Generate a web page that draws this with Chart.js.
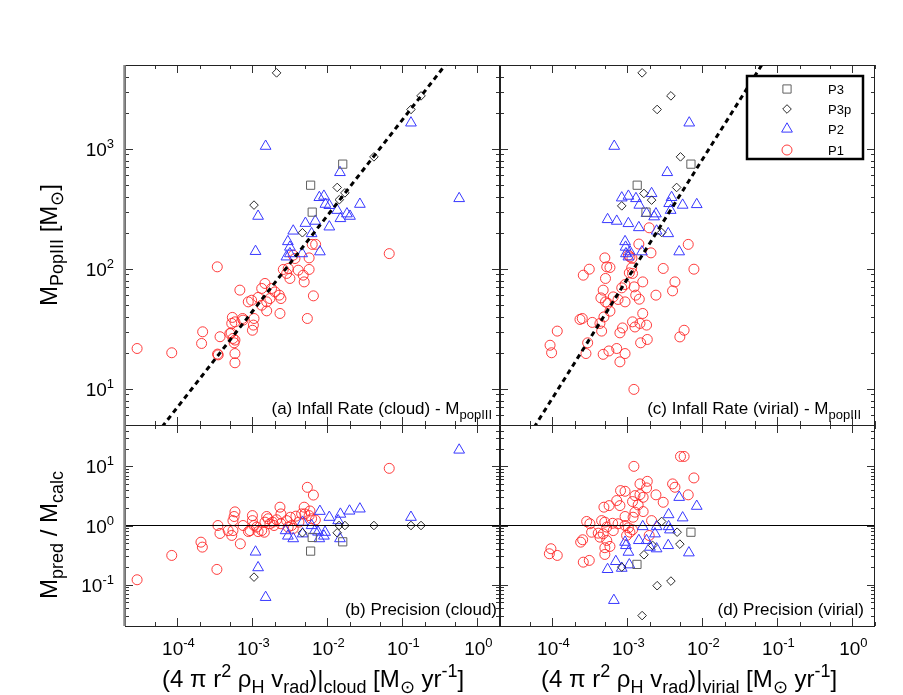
<!DOCTYPE html>
<html><head><meta charset="utf-8">
<script src="https://cdn.jsdelivr.net/npm/chart.js@4/dist/chart.umd.min.js"></script>
<style>
html,body{margin:0;padding:0;background:#fff;}
#wrap{position:relative;width:903px;height:695px;background:#fff;}
#wrap canvas{position:absolute;left:0;top:0;}
</style></head><body>
<div id="wrap">
<canvas id="ca" width="903" height="695"></canvas>
<canvas id="cb" width="903" height="695"></canvas>
<canvas id="cc" width="903" height="695"></canvas>
<canvas id="cd" width="903" height="695"></canvas>
</div>
<script>
// ---------------- data ----------------
const xMin = 2e-5, xMax = 2;
const massMin = 5, massMax = 5000;
const ratioMin = 0.02, ratioMax = 50;
const xTickValues = [1e-4, 1e-3, 1e-2, 1e-1, 1];
const xTickExps = ['-4', '-3', '-2', '-1', '0'];
const massTickValues = [10, 100, 1000];
const massTickExps = ['1', '2', '3'];
const ratioTickValues = [0.1, 1, 10];
const ratioTickExps = ['-1', '0', '1'];
const seriesNames = ['P3', 'P3p', 'P2', 'P1'];

// (a) cloud infall rate vs M_popIII
const cloudMassP1 = [[2.9e-5,21.7],[8.4e-5,20],[2.1e-4,23.9],[2.17e-4,29.9],[3.4e-4,104],[3.7e-4,27.2],[3.43e-4,19.5],[3.5e-4,19.2],[5.85e-4,19.7],[5.85e-4,16.5],[5.7e-4,24.2],[5.5e-4,26.3],[5.2e-4,29.3],[5.3e-4,35.1],[5.4e-4,39.4],[5.85e-4,36.2],[6.8e-4,66.5],[7.5e-4,37.4],[8.8e-4,53.1],[9.75e-4,54.8],[1.0e-3,30.8],[1.05e-3,38.6],[1.03e-3,34],[1.19e-3,57.8],[1.33e-3,68.7],[1.47e-3,75.6],[1.55e-3,53.1],[1.55e-3,44.7],[1.71e-3,56.6],[1.8e-3,68.7],[2.0e-3,64.3],[2.33e-3,42.5],[2.4e-3,56.6],[2.28e-3,60.4],[2.58e-3,98.9],[2.86e-3,91.6],[3.16e-3,83.2],[3.0e-3,100.8],[3.5e-3,130],[3.69e-3,122],[4.08e-3,97.5],[4.75e-3,88.6],[4.9e-3,77.9],[5.7e-3,98.9],[5.7e-3,123.5],[5.4e-3,38.6],[6.5e-3,59.6],[6.27e-3,160],[6.96e-3,160],[0.0667,134],[1.33e-3,49.8],[5.85e-4,25.5],[7.4e-4,38.6],[5.0e-4,28.9]];
const cloudMassP2 = [[1.5e-3,1053],[0.13,1647],[0.0147,636],[7.8e-3,394],[8.98e-3,404],[9.4e-3,346],[0.0106,338],[0.0135,308],[0.0149,263],[0.0182,288],[0.02,275],[0.0271,346],[0.0106,224],[6.9e-3,250],[5.09e-3,240],[3.5e-3,207],[6.15e-3,197],[2.97e-3,169],[3.16e-3,152],[3.16e-3,134],[4.6e-3,134],[2.84e-3,126],[7.94e-3,139],[1.19e-3,275],[1.1e-3,140],[0.571,386]];
const cloudMassP3 = [[0.016,746],[5.97e-3,498],[6.27e-3,297]];
const cloudMassP3p = [[2.1e-3,4300],[0.177,2765],[0.13,2130],[0.0417,858],[0.0135,477],[0.0171,430],[0.0144,377],[1.05e-3,340],[4.64e-3,200]];
const cloudFit = [[3.16e-5,2.8],[1,11000]];

// (b) cloud infall rate vs M_pred / M_calc
const cloudRatioP1 = [[2.9e-5,0.121],[8.4e-5,0.312],[2.06e-4,0.523],[2.15e-4,0.431],[3.36e-4,0.181],[3.47e-4,1.0],[3.69e-4,0.733],[5.85e-4,1.70],[5.7e-4,1.42],[5.5e-4,1.21],[5.5e-4,0.82],[5.3e-4,0.68],[4.75e-4,0.82],[6.9e-4,0.49],[7.5e-4,1.0],[8.85e-4,0.79],[1.0e-3,1.47],[1.0e-3,1.21],[1.05e-3,1.0],[1.14e-3,0.94],[1.19e-3,0.79],[1.33e-3,0.82],[1.44e-3,0.77],[1.47e-3,1.14],[1.55e-3,1.42],[1.62e-3,1.30],[1.71e-3,1.07],[1.86e-3,1.14],[1.94e-3,1.0],[2.1e-3,1.25],[2.33e-3,2.04],[2.4e-3,1.57],[2.4e-3,1.07],[2.86e-3,1.21],[3.0e-3,0.94],[3.21e-3,1.38],[3.33e-3,1.0],[3.5e-3,0.89],[3.8e-3,1.44],[4.17e-3,1.14],[4.53e-3,1.57],[4.9e-3,2.04],[5.0e-3,1.57],[5.4e-3,4.42],[6.5e-3,3.27],[5.7e-3,1.47],[5.85e-3,1.76],[6.15e-3,1.30],[6.9e-3,1.24],[0.0667,9.25],[9.3e-4,0.82]];
const cloudRatioP2 = [[0.571,18.9],[0.13,1.38],[0.0271,1.91],[0.0197,1.76],[0.0149,1.56],[7.94e-3,1.74],[0.0106,1.38],[0.0139,1.21],[4.67e-3,1.14],[6.15e-3,1.0],[2.77e-3,0.82],[2.97e-3,0.665],[3.5e-3,0.60],[4.67e-3,0.725],[6.8e-3,0.82],[7.5e-3,0.777],[9.3e-3,0.77],[8.98e-3,0.665],[7.8e-3,0.60],[0.0147,0.60],[1.1e-3,0.357],[1.19e-3,0.194],[1.5e-3,0.061]];
const cloudRatioP3 = [[6.27e-3,0.628],[5.97e-3,0.369],[0.016,0.53]];
const cloudRatioP3p = [[1.05e-3,0.134],[4.64e-3,0.753],[0.0135,0.753],[0.0143,1.0],[0.0171,1.0],[0.0417,1.0],[0.13,1.0],[0.177,1.0]];

// (c) virial infall rate vs M_popIII
const virialMassP1 = [[1.95e-3,220],[1.42e-3,161],[2.06e-3,136],[6.47e-3,160],[5.0e-4,123.5],[1.08e-3,126],[1.15e-3,123],[1.03e-3,130],[3.1e-4,99.4],[2.58e-4,88.6],[5.3e-4,104],[5.85e-4,102.7],[1.14e-3,102],[1.06e-3,92.6],[1.17e-3,91.6],[5.1e-4,83.2],[3.0e-3,100.8],[7.7e-3,99.4],[4.3e-3,77.9],[4.0e-3,65.6],[1.6e-3,77.9],[1.23e-3,70.8],[1.29e-3,60.4],[1.44e-3,55.9],[2.4e-3,60.4],[9.3e-4,74.1],[8.4e-4,69.5],[4.75e-4,66.5],[6.47e-4,58.4],[7.5e-4,55.6],[4.43e-4,57.3],[5.1e-4,53.1],[5.5e-4,51.5],[9.3e-4,53.1],[5.85e-4,44.4],[4.86e-4,39.8],[2.5e-4,38.6],[2.33e-4,37.9],[3.4e-4,35.8],[4.3e-4,35.1],[4.53e-4,30.3],[8.6e-4,32.2],[7.94e-4,29.3],[1.17e-3,36.2],[1.26e-3,32.8],[1.47e-3,35.1],[1.8e-3,34],[1.6e-3,42.5],[1.16e-4,30.3],[9.3e-5,23.1],[9.75e-5,20],[2.95e-4,24.2],[2.8e-4,19.7],[4.75e-4,19.4],[5.66e-4,20.7],[7.2e-4,21.7],[9.3e-4,19.7],[7.94e-4,16.8],[1.5e-3,24.2],[1.84e-3,25.8],[5.0e-3,27.1],[5.7e-3,30.8],[1.22e-3,9.9]];
const virialMassP2 = [[6.67e-4,1053],[6.67e-3,1647],[3.4e-3,636],[8.4e-4,391],[1.03e-3,404],[1.3e-3,386],[2.1e-3,425],[1.44e-3,340],[3.88e-3,394],[3.6e-3,351],[5.45e-3,340],[8.4e-3,344],[3.77e-3,308],[1.8e-3,290],[2.4e-3,288],[2.27e-3,272],[5.44e-4,258],[7.2e-4,250],[1.03e-3,239],[1.42e-3,221],[2.45e-3,207],[3.5e-3,197],[9.3e-4,169],[9.46e-4,152],[1.08e-3,139],[1.56e-3,139],[4.9e-3,139],[1.03e-3,126],[9.55e-4,134]];
const virialMassP3 = [[7.03e-3,746],[1.35e-3,498],[1.77e-3,297]];
const virialMassP3p = [[1.57e-3,4300],[3.8e-3,2765],[2.49e-3,2130],[5.1e-3,858],[4.53e-3,477],[1.66e-3,425],[2.1e-3,374],[8.4e-4,335],[2.86e-3,201]];
const virialFit = [[3.16e-5,2.66],[0.316,25350]];

// (d) virial infall rate vs M_pred / M_calc
const virialRatioP1 = [[5.1e-3,14.7],[5.7e-3,14.7],[7.7e-3,6.37],[1.22e-3,10.0],[1.47e-3,5.05],[1.84e-3,5.58],[1.8e-3,4.32],[4.0e-3,5.05],[4.3e-3,4.43],[6.47e-3,3.3],[8.1e-4,3.89],[9.3e-4,3.79],[1.26e-3,3.2],[1.47e-3,3.33],[1.62e-3,3.0],[2.4e-3,3.3],[3.0e-3,2.47],[7.2e-4,2.64],[7.94e-4,2.17],[1.17e-3,2.54],[1.39e-3,2.23],[4.86e-4,2.04],[5.7e-4,2.17],[9.3e-4,1.42],[1.26e-3,1.68],[1.62e-3,1.72],[1.19e-3,1.38],[2.1e-3,1.21],[2.86e-4,1.17],[3.16e-4,1.07],[4.53e-4,1.21],[5.0e-4,1.14],[5.3e-4,0.94],[6.35e-4,1.09],[7.5e-4,1.07],[9.3e-4,1.0],[1.03e-3,0.915],[1.17e-3,0.846],[6.47e-4,0.82],[4.08e-4,0.742],[4.3e-4,0.635],[4.75e-4,0.725],[5.3e-4,0.559],[5.85e-4,0.443],[5.0e-4,0.421],[5.0e-4,0.324],[3.33e-4,0.77],[2.53e-4,0.574],[2.38e-4,0.523],[9.55e-5,0.405],[9.1e-5,0.333],[1.16e-4,0.312],[2.58e-4,0.24],[3.1e-4,0.257],[1.95e-3,0.678],[1.08e-3,0.77],[9.75e-4,0.678]];
const virialRatioP2 = [[4.9e-3,3.0],[8.4e-3,2.12],[3.54e-3,1.53],[5.45e-3,1.35],[1.6e-3,0.96],[2.45e-3,0.96],[3.54e-3,0.96],[3.69e-3,0.846],[2.33e-3,0.725],[1.8e-3,0.559],[1.42e-3,0.559],[9.3e-4,0.523],[9.55e-4,0.46],[1.03e-3,0.355],[2.0e-3,0.431],[2.45e-3,0.405],[3.5e-3,0.46],[6.6e-3,0.346],[7.0e-4,0.247],[5.44e-4,0.181],[8.4e-4,0.19],[1.06e-3,0.217],[6.6e-4,0.0543]];
const virialRatioP3 = [[7.03e-3,0.77],[1.34e-3,0.22]];
const virialRatioP3p = [[2.86e-3,1.17],[4.6e-3,0.77],[5.0e-3,0.484],[2.17e-3,0.46],[1.66e-3,0.32],[8.4e-4,0.198],[2.49e-3,0.096],[3.8e-3,0.115],[1.57e-3,0.03]];
const unityLine = [[xMin,1],[xMax,1]];

// ---------------- styles / layout ----------------
const W = 903, H = 695;
const XL = 125, XM = 500, XR = 875, YT = 65, YS = 425, YB = 626;
const FONT = '"Liberation Sans", Arial, Helvetica, sans-serif';
const STY = {
  P3:  {pointStyle:'rect',    r:5.8, color:'#606060'},
  P3p: {pointStyle:'rectRot', r:4.3, color:'#2a2a2a'},
  P2:  {pointStyle:'triangle',r:6.2, color:'#3838ff'},
  P1:  {pointStyle:'circle',  r:5,   color:'rgba(255,40,40,0.9)'}
};
const toXY = arr => arr.map(p => ({x:p[0], y:p[1]}));

function rich(ctx, runs, x, y, align, rot) {
  let w = 0;
  const ws = runs.map(r => { ctx.font = r[1] + 'px ' + FONT; const m = ctx.measureText(r[0]).width; w += m; return m; });
  ctx.save();
  ctx.translate(x, y);
  if (rot) ctx.rotate(rot);
  ctx.textAlign = 'left'; ctx.textBaseline = 'alphabetic'; ctx.fillStyle = '#000';
  let cx = align === 'center' ? -w / 2 : (align === 'right' ? -w : 0);
  runs.forEach((r, i) => { ctx.font = r[1] + 'px ' + FONT; ctx.fillText(r[0], cx, r[2]); cx += ws[i]; });
  ctx.restore();
}

function drawMarker(ctx, name, x, y) {
  const s = STY[name];
  ctx.save();
  ctx.strokeStyle = s.color; ctx.lineWidth = 1;
  ctx.beginPath();
  if (s.pointStyle === 'circle') ctx.arc(x, y, s.r, 0, Math.PI * 2);
  else if (s.pointStyle === 'rect') { const h = s.r * Math.SQRT1_2; ctx.rect(x - h, y - h, 2 * h, 2 * h); }
  else if (s.pointStyle === 'rectRot') { ctx.moveTo(x, y - s.r); ctx.lineTo(x + s.r, y); ctx.lineTo(x, y + s.r); ctx.lineTo(x - s.r, y); ctx.closePath(); }
  else { for (let k = 0; k < 3; k++) { const a = -Math.PI / 2 + k * 2 * Math.PI / 3; const px = x + s.r * Math.cos(a), py = y + s.r * Math.sin(a); k ? ctx.lineTo(px, py) : ctx.moveTo(px, py); } ctx.closePath(); }
  ctx.stroke();
  ctx.restore();
}

function tickList(min, max, mults) {
  const out = [];
  for (let d = Math.floor(Math.log10(min)) - 1; d <= Math.ceil(Math.log10(max)); d++) {
    mults.forEach(m => { const v = m * Math.pow(10, d); if (v >= min * 0.999 && v <= max * 1.001) out.push([v, m === 1]); });
  }
  return out;
}

function decoPlugin(cfg) {
  return {
    id: 'deco',
    afterDatasetsDraw(chart) {
      const ctx = chart.ctx, a = chart.chartArea, xs = chart.scales.x, ys = chart.scales.y;
      ctx.save();
      ctx.strokeStyle = '#333'; ctx.lineWidth = 1;
      ctx.beginPath();
      tickList(xs.min, xs.max, [1, 2, 5]).forEach(([v, major]) => {
        const px = Math.round(xs.getPixelForValue(v)) + 0.5, len = major ? 8 : 4;
        ctx.moveTo(px, a.bottom); ctx.lineTo(px, a.bottom - len);
        ctx.moveTo(px, a.top); ctx.lineTo(px, a.top + len);
      });
      tickList(ys.min, ys.max, [1, 2, 3, 4, 5, 6, 7, 8, 9]).forEach(([v, major]) => {
        const py = Math.round(ys.getPixelForValue(v)) + 0.5, len = major ? 8 : 4;
        ctx.moveTo(a.left, py); ctx.lineTo(a.left + len, py);
        ctx.moveTo(a.right, py); ctx.lineTo(a.right - len, py);
      });
      ctx.stroke();
      ctx.strokeStyle = '#222'; ctx.lineWidth = 1;
      ctx.strokeRect(a.left + 0.5, a.top + 0.5, a.right - a.left - 1, a.bottom - a.top);
      if (cfg.thickLeft) {
        ctx.strokeStyle = '#8a8a8a'; ctx.lineWidth = 2.5;
        ctx.beginPath(); ctx.moveTo(a.left - 0.5, a.top); ctx.lineTo(a.left - 0.5, a.bottom); ctx.stroke();
      }
      if (cfg.xLabels) xTickValues.forEach((v, i) => {
        rich(ctx, [['10', 19, 0], [xTickExps[i], 13, -8]], xs.getPixelForValue(v) + 1, 655, 'center');
      });
      if (cfg.yLabels) cfg.yLabels[0].forEach((v, i) => {
        rich(ctx, [['10', 19, 0], [cfg.yLabels[1][i], 13, -8]], a.left - 11, ys.getPixelForValue(v) + 7, 'right');
      });
      rich(ctx, cfg.label, cfg.labelX, a.bottom - 11, 'right');
      (cfg.titles || []).forEach(t => rich(ctx, t.runs, t.x, t.y, 'center', t.rot));
      if (cfg.legend) {
        const bx = 747, by = 76, bw = 116, bh = 83;
        ctx.fillStyle = '#fff'; ctx.fillRect(bx, by, bw, bh);
        ctx.strokeStyle = '#000'; ctx.lineWidth = 2.5; ctx.strokeRect(bx, by, bw, bh);
        const rowsY = [89, 109, 129, 150];
        seriesNames.forEach((n, i) => {
          drawMarker(ctx, n, 787, rowsY[i]);
          rich(ctx, [[n, 13, 0]], 828, rowsY[i] + 5, 'left');
        });
      }
      ctx.restore();
    }
  };
}

function makePanel(id, area, yMin, yMax, series, lineData, lineStyle, cfg) {
  const datasets = [];
  if (lineData) datasets.push(Object.assign({
    type: 'line', data: toXY(lineData), borderColor: '#000', pointRadius: 0,
    fill: false, showLine: true, tension: 0
  }, lineStyle));
  seriesNames.forEach(n => {
    const s = STY[n];
    datasets.push({
      label: n, data: toXY(series[n]), pointStyle: s.pointStyle, pointRadius: s.r,
      borderColor: s.color, backgroundColor: 'rgba(0,0,0,0)', borderWidth: 1, showLine: false
    });
  });
  new Chart(document.getElementById(id), {
    type: 'scatter',
    data: { datasets },
    options: {
      responsive: false, animation: false, devicePixelRatio: 1, events: [],
      layout: { padding: { left: area[0], right: W - area[1], top: area[2], bottom: H - area[3] } },
      plugins: { legend: { display: false }, tooltip: { enabled: false } },
      scales: {
        x: { type: 'logarithmic', min: xMin, max: xMax, display: false },
        y: { type: 'logarithmic', min: yMin, max: yMax, display: false }
      }
    },
    plugins: [decoPlugin(cfg)]
  });
}

const fitStyle = { borderWidth: 3, borderDash: [5, 4] };
const unityStyle = { borderWidth: 1.2 };
const mSun = '\u2299';
const TF = 24, TS = 18;

makePanel('ca', [XL, XM, YT, YS], massMin, massMax,
  { P3: cloudMassP3, P3p: cloudMassP3p, P2: cloudMassP2, P1: cloudMassP1 }, cloudFit, fitStyle,
  { thickLeft: true, yLabels: [massTickValues, massTickExps],
    label: [['(a) Infall Rate (cloud) - M', 17, 0], ['popIII', 13, 5]], labelX: 492,
    titles: [{ runs: [['M', TF, 0], ['PopIII', TS, 6], [' [M', TF, 0], [mSun, TS, 6], [']', TF, 0]], x: 57, y: 245, rot: -Math.PI / 2 }] });

makePanel('cb', [XL, XM, YS, YB], ratioMin, ratioMax,
  { P3: cloudRatioP3, P3p: cloudRatioP3p, P2: cloudRatioP2, P1: cloudRatioP1 }, unityLine, unityStyle,
  { thickLeft: true, xLabels: true, yLabels: [ratioTickValues, ratioTickExps],
    label: [['(b) Precision (cloud)', 17, 0]], labelX: 497,
    titles: [
      { runs: [['M', TF, 0], ['pred', TS, 6], [' / M', TF, 0], ['calc', TS, 6]], x: 57, y: 535, rot: -Math.PI / 2 },
      { runs: [['(4 \u03c0 r', TF, 0], ['2', TS, -10], [' \u03c1', TF, 0], ['H', TS, 6], [' v', TF, 0], ['rad', TS, 6], [')|', TF, 0], ['cloud', TS, 6], [' [M', TF, 0], [mSun, TS, 6], [' yr', TF, 0], ['-1', TS, -10], [']', TF, 0]], x: 313, y: 687 }
    ] });

makePanel('cc', [XM, XR, YT, YS], massMin, massMax,
  { P3: virialMassP3, P3p: virialMassP3p, P2: virialMassP2, P1: virialMassP1 }, virialFit, fitStyle,
  { legend: true, label: [['(c) Infall Rate (virial) - M', 17, 0], ['popIII', 13, 5]], labelX: 861 });

makePanel('cd', [XM, XR, YS, YB], ratioMin, ratioMax,
  { P3: virialRatioP3, P3p: virialRatioP3p, P2: virialRatioP2, P1: virialRatioP1 }, unityLine, unityStyle,
  { xLabels: true, label: [['(d) Precision (virial)', 17, 0]], labelX: 864,
    titles: [
      { runs: [['(4 \u03c0 r', TF, 0], ['2', TS, -10], [' \u03c1', TF, 0], ['H', TS, 6], [' v', TF, 0], ['rad', TS, 6], [')|', TF, 0], ['virial', TS, 6], [' [M', TF, 0], [mSun, TS, 6], [' yr', TF, 0], ['-1', TS, -10], [']', TF, 0]], x: 689, y: 687 }
    ] });
</script>
</body></html>
